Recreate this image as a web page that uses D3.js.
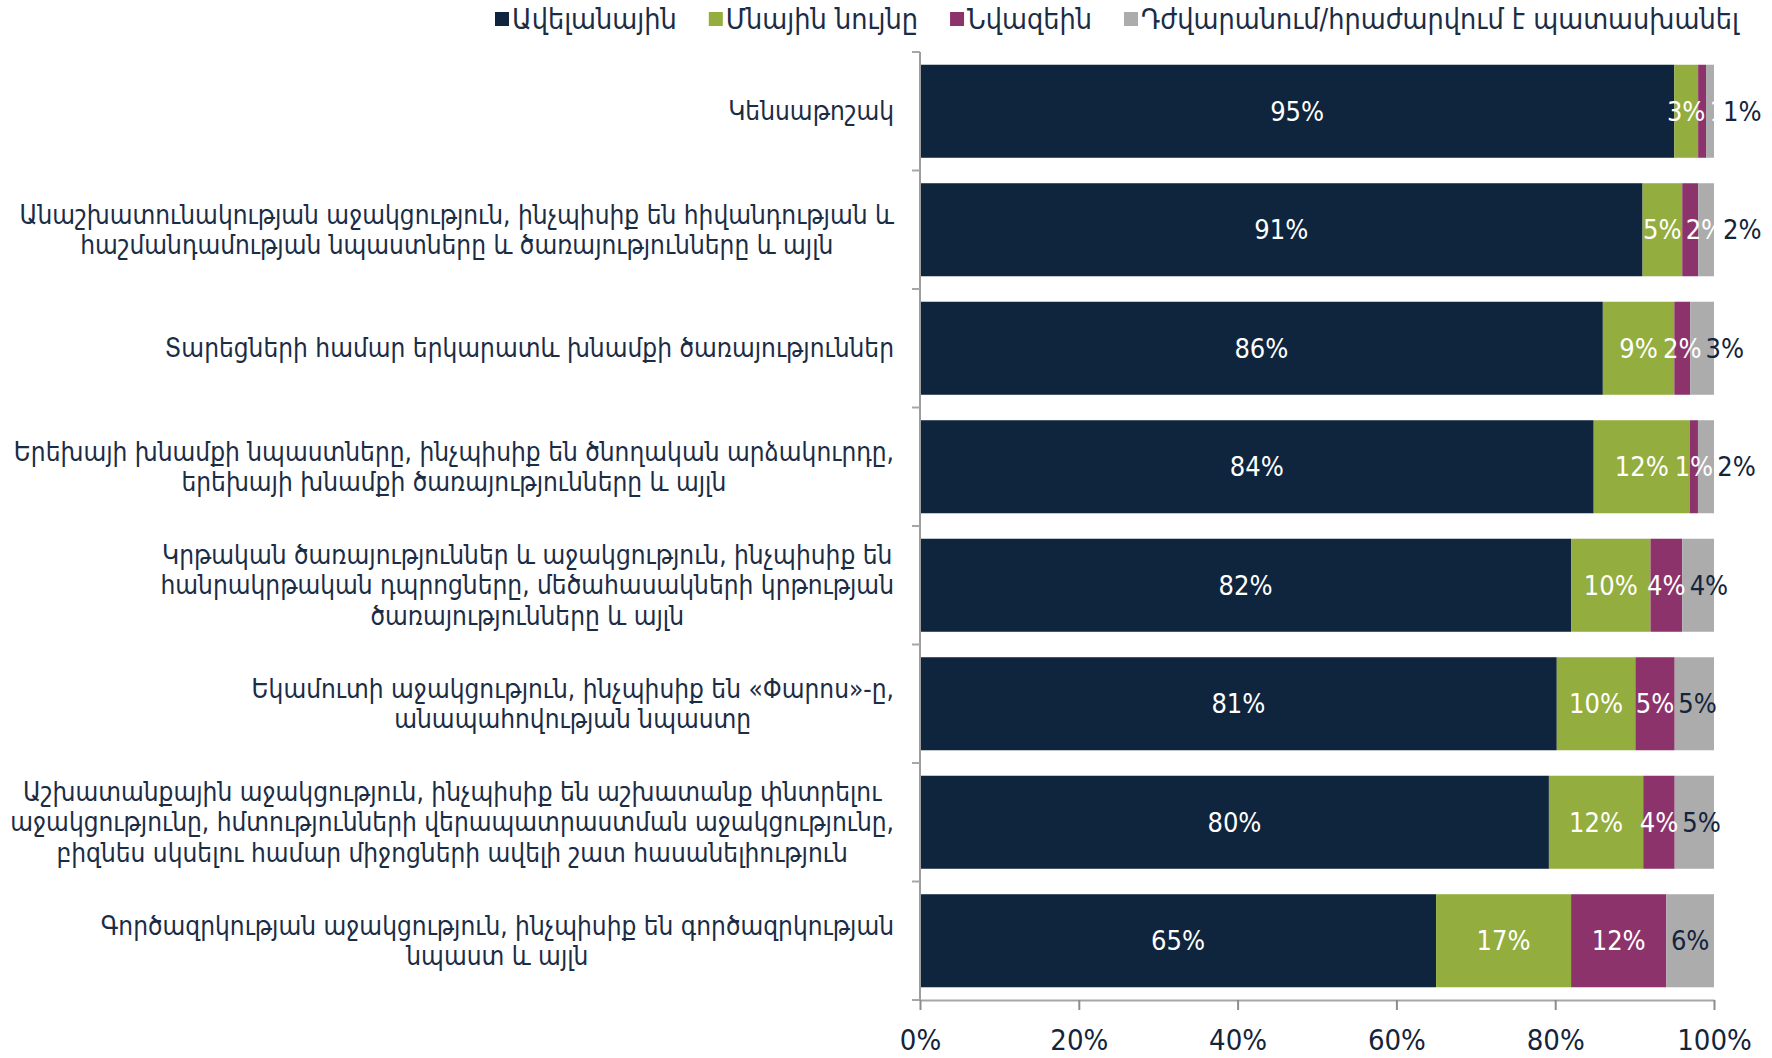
<!DOCTYPE html>
<html>
<head>
<meta charset="utf-8">
<script src="https://cdnjs.cloudflare.com/ajax/libs/d3/7.8.5/d3.min.js"></script>
<style>
    body { margin: 0; background: #ffffff; }
    svg { display: block; }
    .catLabel { font-family: "DejaVu Sans Condensed", "DejaVu Sans", sans-serif; fill: #1b2c45; }
    .legendText { font-family: "DejaVu Sans Condensed", "DejaVu Sans", sans-serif; fill: #1b2c45; }
    .valLabel { font-family: "Liberation Sans Narrow", "DejaVu Sans Condensed", sans-serif; }
    .xAxis text { font-family: "Liberation Sans Narrow", "DejaVu Sans Condensed", sans-serif; fill: #14243d; }
</style>
</head>
<body>
<div id="chart"></div>
<script>

var categories = [
    "Կենսաթոշակ",
    "Անաշխատունակության աջակցություն, ինչպիսիք են հիվանդության և\nհաշմանդամության նպաստները և ծառայությունները և այլն",
    "Տարեցների համար երկարատև խնամքի ծառայություններ",
    "Երեխայի խնամքի նպաստները, ինչպիսիք են ծնողական արձակուրդը,\nերեխայի խնամքի ծառայությունները և այլն",
    "Կրթական ծառայություններ և աջակցություն, ինչպիսիք են\nհանրակրթական դպրոցները, մեծահասակների կրթության\nծառայությունները և այլն",
    "Եկամուտի աջակցություն, ինչպիսիք են «Փարոս»-ը,\nանապահովության նպաստը",
    "Աշխատանքային աջակցություն, ինչպիսիք են աշխատանք փնտրելու\nաջակցությունը, հմտությունների վերապատրաստման աջակցությունը,\nբիզնես սկսելու համար միջոցների ավելի շատ հասանելիություն",
    "Գործազրկության աջակցություն, ինչպիսիք են գործազրկության\nնպաստ և այլն"
];

var seriesNames = ["Ավելանային", "Մնային նույնը", "Նվազեին", "Դժվարանում/հրաժարվում է պատասխանել"];
var seriesColors = ["#0f243d", "#93ad3e", "#8d336c", "#acacac"];
var labelColors = ["#ffffff", "#ffffff", "#ffffff", "#14243d"];

var increaseValues = [95, 91, 86, 84, 82, 81, 80, 65];
var sameValues = [3, 5, 9, 12, 10, 10, 12, 17];
var decreaseValues = [1, 2, 2, 1, 4, 5, 4, 12];
var hardToSayValues = [1, 2, 3, 2, 4, 5, 5, 6];

var tickValues = [0, 0.2, 0.4, 0.6, 0.8, 1];

var width = 1772, height = 1058;

var svg = d3.select("#chart").append("svg")
    .attr("width", width)
    .attr("height", height);

var keys = ["s0", "s1", "s2", "s3"];
var rows = categories.map(function (c, i) {
    return {cat: c, s0: increaseValues[i], s1: sameValues[i], s2: decreaseValues[i], s3: hardToSayValues[i]};
});

var stacked = d3.stack().keys(keys).offset(d3.stackOffsetExpand)(rows);

var x = d3.scaleLinear().domain([0, 1]).range([920, 1714]);
var y = d3.scaleBand().domain(categories).range([52, 1000]).paddingInner(0.215).paddingOuter(0.1075);

// bars
stacked.forEach(function (layer, k) {
    svg.append("g").selectAll("rect")
        .data(layer)
        .enter().append("rect")
        .attr("x", function (d) { return x(d[0]); })
        .attr("y", function (d) { return y(d.data.cat); })
        .attr("width", function (d) { return x(d[1]) - x(d[0]); })
        .attr("height", y.bandwidth())
        .attr("fill", seriesColors[k]);
});

// y axis line + ticks on band boundaries
var yAxisG = svg.append("g");
yAxisG.append("line")
    .attr("x1", x(0)).attr("x2", x(0))
    .attr("y1", y.range()[0]).attr("y2", y.range()[1])
    .attr("stroke", "#9d9d9d").attr("stroke-width", 2);
yAxisG.selectAll(".bt")
    .data(d3.range(categories.length + 1))
    .enter().append("line")
    .attr("x1", x(0) - 8).attr("x2", x(0))
    .attr("y1", function (i) { return y.range()[0] + i * y.step(); })
    .attr("y2", function (i) { return y.range()[0] + i * y.step(); })
    .attr("stroke", "#a6a6a6").attr("stroke-width", 2);

// x axis
var xAxisG = svg.append("g")
    .attr("class", "xAxis")
    .attr("transform", "translate(0," + y.range()[1] + ")")
    .call(d3.axisBottom(x).tickValues(tickValues).tickFormat(d3.format(".0%")).tickSize(10).tickSizeOuter(0).tickPadding(19));
xAxisG.select(".domain").attr("stroke", "#a6a6a6").attr("stroke-width", 2);
xAxisG.selectAll(".tick line").attr("stroke", "#8c8c8c").attr("stroke-width", 2);
xAxisG.selectAll(".tick text").attr("font-size", 29);

// value labels, pushed right when they run into the previous label
var labelG = svg.append("g");
rows.forEach(function (row, i) {
    var prevRight = -Infinity;
    var cy = y(row.cat) + y.bandwidth() / 2;
    stacked.forEach(function (layer, k) {
        var d = layer[i];
        var t = labelG.append("text")
            .attr("class", "valLabel")
            .attr("font-size", 27)
            .attr("fill", labelColors[k])
            .attr("y", cy)
            .attr("dy", "0.35em")
            .text(row[keys[k]] + "%");
        var w = t.node().getComputedTextLength();
        var left = (x(d[0]) + x(d[1])) / 2 - w / 2;
        if (left < prevRight + 4) left = prevRight + 4;
        if (k == keys.length - 1) left = Math.min(left, x(1) + 9);
        t.attr("x", left);
        prevRight = left + w;
    });
});

// category labels, centred lines, block right aligned
var labelRight = 894;
var lineH = 30.5;
categories.forEach(function (c) {
    var lines = c.split("\n");
    var g = svg.append("g");
    var cy = y(c) + y.bandwidth() / 2;
    var texts = lines.map(function (l, j) {
        return g.append("text")
            .attr("class", "catLabel")
            .attr("font-size", 26)
            .attr("text-anchor", "middle")
            .attr("y", cy + (j - (lines.length - 1) / 2) * lineH)
            .attr("dy", "0.35em")
            .text(l);
    });
    var maxW = d3.max(texts, function (t) { return t.node().getComputedTextLength(); });
    texts.forEach(function (t) { t.attr("x", labelRight - maxW / 2); });
});

// legend
var legendG = svg.append("g");
var lx = 495;
seriesNames.forEach(function (name, k) {
    legendG.append("rect")
        .attr("x", lx).attr("y", 12)
        .attr("width", 14).attr("height", 14)
        .attr("fill", seriesColors[k]);
    var t = legendG.append("text")
        .attr("class", "legendText")
        .attr("x", lx + 17)
        .attr("y", 19)
        .attr("dy", "0.35em")
        .attr("font-size", 28.5)
        .text(name);
    lx += 17 + t.node().getComputedTextLength() + 32;
});

</script>
</body>
</html>
